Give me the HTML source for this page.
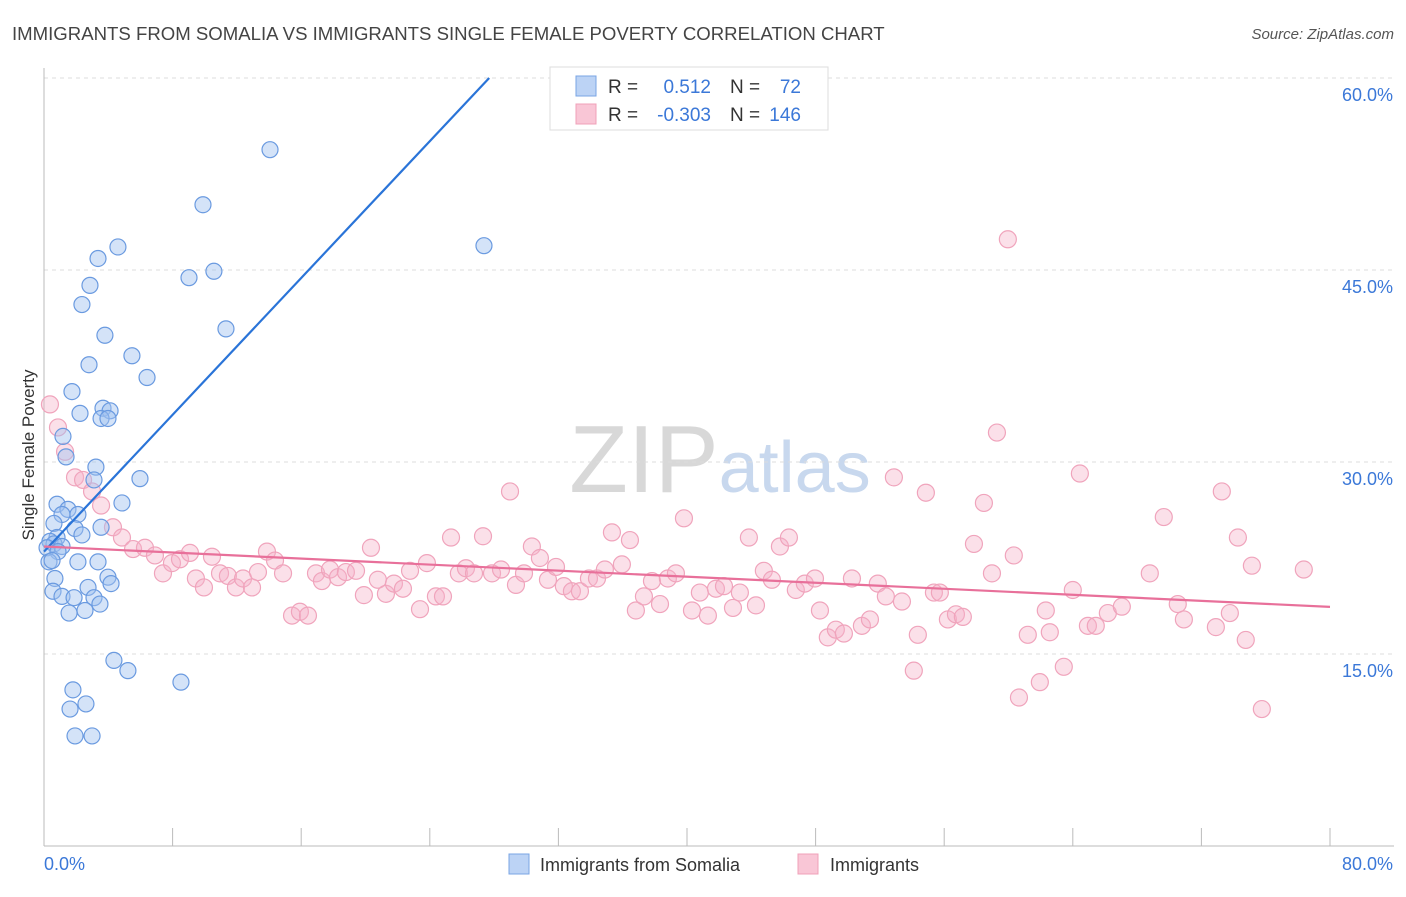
<!DOCTYPE html>
<html><head><meta charset="utf-8"><style>
body{margin:0;background:#fff;font-family:"Liberation Sans",sans-serif}
svg text{font-family:"Liberation Sans",sans-serif}
</style></head><body>
<svg id="chart" width="1406" height="892" xmlns="http://www.w3.org/2000/svg">
<text x="12" y="40" font-size="18.6" fill="#444">IMMIGRANTS FROM SOMALIA VS IMMIGRANTS SINGLE FEMALE POVERTY CORRELATION CHART</text>
<text x="1394" y="39" font-size="15" fill="#555" text-anchor="end" font-style="italic">Source: ZipAtlas.com</text>
<text x="720" y="492" font-size="96" text-anchor="middle" fill="#ddd" font-family="Liberation Serif"><tspan fill="#d8d8d8">ZIP</tspan><tspan fill="#c8d8ee" font-family="Liberation Sans" font-size="72">atlas</tspan></text>
<g id="grid"></g>
<g id="axes"></g>
<g id="pts"></g>
<g id="lines"></g>
<text transform="translate(34,455) rotate(-90)" font-size="17" fill="#333" text-anchor="middle">Single Female Poverty</text>
<g>
<rect x="550" y="67" width="278" height="63" fill="#fff" stroke="#ddd"/>
<rect x="576" y="76" width="20" height="20" fill="#bcd3f5" stroke="#7aa4e4"/>
<rect x="576" y="104" width="20" height="20" fill="#f9c6d6" stroke="#f0a0b8"/>
<text x="608" y="93" font-size="19" fill="#333">R =</text><text x="711" y="93" font-size="19" fill="#3b78d8" text-anchor="end">0.512</text>
<text x="730" y="93" font-size="19" fill="#333">N =</text><text x="801" y="93" font-size="19" fill="#3b78d8" text-anchor="end">72</text>
<text x="608" y="121" font-size="19" fill="#333">R =</text><text x="711" y="121" font-size="19" fill="#3b78d8" text-anchor="end">-0.303</text>
<text x="730" y="121" font-size="19" fill="#333">N =</text><text x="801" y="121" font-size="19" fill="#3b78d8" text-anchor="end">146</text>
</g>
<g>
<rect x="509" y="854" width="20" height="20" fill="#bcd3f5" stroke="#7aa4e4"/>
<text x="540" y="871" font-size="18" fill="#333">Immigrants from Somalia</text>
<rect x="798" y="854" width="20" height="20" fill="#f9c6d6" stroke="#f0a0b8"/>
<text x="830" y="871" font-size="18" fill="#333">Immigrants</text>
</g>
</svg>
<script>
const xTickValues=[0,8,16,24,32,40,48,56,64,72,80];
const yTickValues=[15,30,45,60];
const yTickLabels=["15.0%","30.0%","45.0%","60.0%"];
const xEndLabels=["0.0%","80.0%"];
const somaliaX=[14.06,9.89,4.60,3.36,27.37,9.02,10.57,2.86,2.36,11.32,3.79,5.47,2.80,6.41,1.74,2.24,3.67,4.11,3.55,3.98,1.18,1.37,3.23,3.11,5.97,0.81,4.85,1.49,2.11,1.12,0.62,1.93,3.55,2.36,0.81,0.37,0.62,1.12,0.19,0.87,0.31,2.11,3.36,0.68,3.98,4.17,2.74,0.56,1.12,1.87,3.11,3.48,2.55,1.56,4.35,5.22,1.80,8.52,2.61,1.62,1.93,2.99,0.50];
const somaliaY=[54.4,50.1,46.8,45.9,46.9,44.4,44.9,43.8,42.3,40.4,39.9,38.3,37.6,36.6,35.5,33.8,34.2,34.0,33.4,33.4,32.0,30.4,29.6,28.6,28.7,26.7,26.8,26.3,25.9,25.9,25.2,24.8,24.9,24.3,24.1,23.8,23.6,23.4,23.3,23.0,22.2,22.2,22.2,20.9,21.0,20.5,20.2,19.9,19.5,19.4,19.4,18.9,18.4,18.2,14.5,13.7,12.2,12.8,11.1,10.7,8.6,8.6,22.3];
const immX=[0.37,0.87,1.31,1.93,2.43,2.99,3.55,4.29,4.85,5.54,6.28,6.90,7.40,7.96,8.46,9.08,9.45,9.95,10.45,10.95,11.44,11.94,12.38,12.94,13.31,13.87,14.37,14.87,15.43,15.92,16.42,16.92,17.29,17.79,18.29,18.78,19.41,19.90,20.34,20.77,21.27,21.77,22.33,22.77,23.39,23.82,24.38,24.82,25.32,25.81,26.25,26.75,27.31,27.87,28.43,28.99,29.36,29.86,30.35,30.85,31.35,31.85,32.34,32.84,33.34,33.90,34.40,34.89,35.33,35.95,36.45,36.82,37.32,37.82,38.32,38.81,39.31,39.81,40.31,40.80,41.30,41.80,42.30,42.86,43.29,43.85,44.29,44.78,45.28,45.78,46.34,46.77,47.33,47.96,48.27,48.76,49.26,49.76,50.26,50.88,51.38,51.87,52.37,52.87,53.37,54.11,54.36,54.86,55.36,55.73,56.23,56.73,57.16,57.85,58.47,58.97,59.28,59.96,60.33,60.65,61.20,61.95,62.32,62.57,63.44,64.00,64.44,64.94,65.43,66.18,67.05,68.79,69.66,70.53,70.91,72.90,73.27,73.77,74.27,74.76,75.14,75.76,78.37];
const immY=[34.5,32.7,30.8,28.8,28.6,27.7,26.6,24.9,24.1,23.2,23.3,22.7,21.3,22.1,22.4,22.9,20.9,20.2,22.6,21.3,21.1,20.2,20.9,20.2,21.4,23.0,22.3,21.3,18.0,18.3,18.0,21.3,20.7,21.6,21.0,21.4,21.5,19.6,23.3,20.8,19.7,20.5,20.1,21.5,18.5,22.1,19.5,19.5,24.1,21.3,21.7,21.3,24.2,21.3,21.6,27.7,20.4,21.3,23.4,22.5,20.8,21.8,20.3,19.9,19.9,20.9,20.9,21.6,24.5,22.0,23.9,18.4,19.5,20.7,18.9,20.9,21.3,25.6,18.4,19.8,18.0,20.1,20.3,18.6,19.8,24.1,18.8,21.5,20.8,23.4,24.1,20.0,20.5,20.9,18.4,16.3,16.9,16.6,20.9,17.2,17.7,20.5,19.5,28.8,19.1,13.7,16.5,27.6,19.8,19.8,17.7,18.1,17.9,23.6,26.8,21.3,32.3,47.4,22.7,11.6,16.5,12.8,18.4,16.7,14.0,20.0,29.1,17.2,17.2,18.2,18.7,21.3,25.7,18.9,17.7,17.1,27.7,18.2,24.1,16.1,21.9,10.7,21.6];
const somaliaTrend=[23.0,1.336];
const immTrend=[23.4,-0.059];
const X0=44,X1=1330,Y0=846,PPY=12.8;
const sx=v=>X0+(v/80)*(X1-X0);
const sy=v=>Y0-v*PPY;
const NS="http://www.w3.org/2000/svg";
function mk(tag,attrs,parent){const e=document.createElementNS(NS,tag);for(const k in attrs)e.setAttribute(k,attrs[k]);parent.appendChild(e);return e;}
const gridG=document.getElementById('grid'),axesG=document.getElementById('axes'),ptsG=document.getElementById('pts'),linesG=document.getElementById('lines');
yTickValues.forEach((v,i)=>{
 const l=mk('line',{x1:X0,x2:1394,y1:sy(v),y2:sy(v),stroke:'#ddd','stroke-dasharray':'4,4'},gridG);
 
 
 const t=mk('text',{x:1393,y:sy(v)+23,'font-size':18,fill:'#3b78d8','text-anchor':'end'},axesG);
 t.textContent=yTickLabels[i];
 
 
});
const ax=mk('line',{x1:X0,x2:1394,y1:Y0,y2:Y0,stroke:'#bbb'},axesG);


const ay=mk('line',{x1:X0,x2:X0,y1:68,y2:Y0,stroke:'#bbb'},axesG);


xTickValues.forEach(v=>{
 const t=mk('line',{x1:sx(v),x2:sx(v),y1:Y0,y2:Y0-18,stroke:'#bbb'},axesG);
 
 
});
const xl0=mk('text',{x:44,y:870,'font-size':18,fill:'#3b78d8'},axesG);xl0.textContent=xEndLabels[0];


const xl1=mk('text',{x:1393,y:870,'font-size':18,fill:'#3b78d8','text-anchor':'end'},axesG);xl1.textContent=xEndLabels[1];


immX.forEach((x,i)=>{
 const c=mk('circle',{cx:sx(x),cy:sy(immY[i]),r:8.5,fill:'rgba(246,178,200,0.4)',stroke:'#f0a4bc','stroke-width':1.2},ptsG);
 
 
});
somaliaX.forEach((x,i)=>{
 const c=mk('circle',{cx:sx(x),cy:sy(somaliaY[i]),r:8,fill:'rgba(160,192,240,0.45)',stroke:'#6a9ae0','stroke-width':1.2},ptsG);
 
 
});
const bxEnd=(60-somaliaTrend[0])/somaliaTrend[1];
const bl=mk('line',{x1:sx(0),y1:sy(somaliaTrend[0]),x2:sx(bxEnd),y2:sy(60),stroke:'#2a74d8','stroke-width':2.2},linesG);


const pl=mk('line',{x1:sx(0),y1:sy(immTrend[0]),x2:sx(80),y2:sy(immTrend[0]+immTrend[1]*80),stroke:'#e8709a','stroke-width':2.2},linesG);


</script>
</body></html>
